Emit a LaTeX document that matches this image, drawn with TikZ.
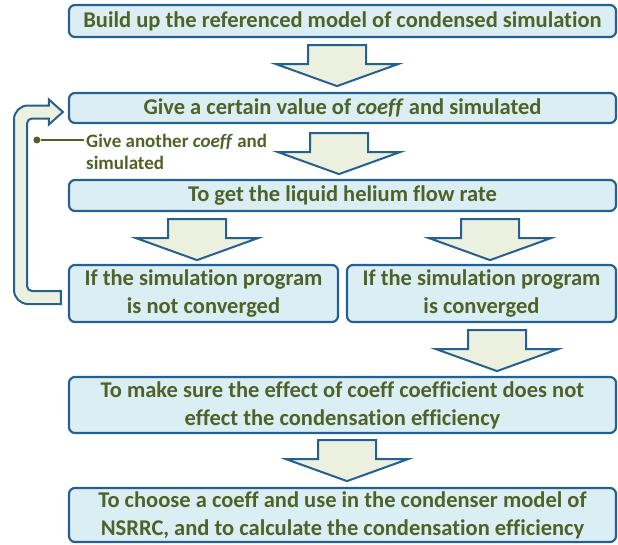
\documentclass[tikz,border=0pt]{standalone}
\usepackage{fontspec}
\setmainfont{Carlito}[Ligatures=NoCommon]
\usetikzlibrary{calc}
\definecolor{sblue}{RGB}{37, 96, 146}
\definecolor{sfill}{RGB}{218, 238, 243}
\definecolor{sgreen}{RGB}{79, 98, 40}
\definecolor{spale}{RGB}{235, 241, 222}
% block arrow pointing down, top centre at #1
\newcommand{\flowarr}[1]{%
  \draw[barr, shift={(#1)}] (-29,0) -- (29,0) -- (29,-19) -- (61,-19)
    -- (0,-41) -- (-61,-19) -- (-29,-19) -- cycle;}

\begin{document}
\begin{tikzpicture}[x=1pt, y=1pt,
  box/.style={rectangle, rounded corners=6pt, draw=sblue, line width=2.2pt,
              fill=sfill, align=center, text=sgreen, inner sep=0pt,
              font=\fontsize{22.5}{28}\selectfont\bfseries},
  barr/.style={draw=sblue, line width=2pt, fill=spale, line join=miter},
  loopy/.style={draw=sblue, line width=2pt, fill=spale},
  hint/.style={font=\fontsize{19}{22}\selectfont\bfseries, text=sgreen,
               align=left, inner sep=2pt},
  hintdot/.style={circle, fill=sgreen, inner sep=0pt, minimum size=7pt}
]
\useasboundingbox (0,0) rectangle (618,-544);
% Main column
\node[box, minimum width=547pt, minimum height=32pt] (build) at (342.5,-21)
  {Build up the referenced model of condensed simulation};
\node[box, minimum width=547pt, minimum height=30pt] (give) at (342.5,-108)
  {Give a certain value of \textit{coeff} and simulated};
\node[box, minimum width=547pt, minimum height=31pt] (flow) at (342.5,-195.5)
  {To get the liquid helium flow rate};
% Two outcomes
\node[box, minimum width=269pt, minimum height=57pt] (notconv) at (203.5,-293.5)
  {If the simulation program\\is not converged};
\node[box, minimum width=269pt, minimum height=57pt] (conv) at (481.5,-293.5)
  {If the simulation program\\is converged};
% Last steps
\node[box, minimum width=547pt, minimum height=56pt] (check) at (342.5,-405)
  {To make sure the effect of coeff coefficient does not\\effect the condensation efficiency};
\node[box, minimum width=547pt, minimum height=54pt] (choose) at (342.5,-515)
  {To choose a coeff and use in the condenser model of\\NSRRC, and to calculate the condensation efficiency};

% Block arrows
\coordinate (a1) at ([xshift=-5.5pt, yshift=-7pt]build.south);
\coordinate (a2) at ([xshift=-3.5pt, yshift=-9pt]give.south);
\coordinate (a3) at ([xshift=-145.5pt, yshift=-7pt]flow.south);
\coordinate (a4) at ([xshift=147.5pt, yshift=-7pt]flow.south);
\coordinate (a5) at ([xshift=15.5pt, yshift=-7pt]conv.south);
\coordinate (a6) at ([xshift=4.5pt, yshift=-6pt]check.south);
\flowarr{a1}
\flowarr{a2}
\flowarr{a3}
\flowarr{a4}
\flowarr{a5}
\flowarr{a6}

% Loop back
\coordinate (tail) at ([xshift=-7pt, yshift=-4pt]notconv.west);
\coordinate (tip)  at ([xshift=-5pt, yshift=-4pt]give.west);
\draw[loopy] let \p1=(tail), \p2=(tip) in
  (\x1,\y1-6.5) [rounded corners=14pt] -- (14,\y1-6.5) -- (14,\y2+6.5)
  [sharp corners] -- (\x2-14,\y2+6.5) -- (\x2-14,\y2+12.5) -- (\x2,\y2)
  -- (\x2-14,\y2-12.5) -- (\x2-14,\y2-6.5)
  [rounded corners=5pt] -- (27,\y2-6.5) -- (27,\y1+6.5)
  [sharp corners] -- (\x1,\y1+6.5) -- cycle;

% Hint
\node[hintdot] (dot) at ([xshift=-31pt, yshift=-32pt]give.west) {};
\node[hint, anchor=north west] (note) at (84,-132)
  {Give another \textit{coeff} and\\simulated};
\draw[sgreen, line width=1.2pt] (dot) -- (dot -| note.west);
\end{tikzpicture}
\end{document}
